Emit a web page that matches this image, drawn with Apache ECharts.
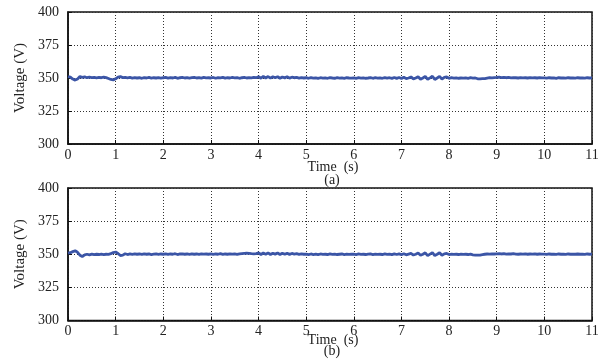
<!DOCTYPE html>
<html><head><meta charset="utf-8">
<script src="https://cdn.jsdelivr.net/npm/echarts@6/dist/echarts.min.js"></script>
<style>html,body{margin:0;padding:0;background:#fff}#c{width:611px;height:361px}</style>
</head><body><div id="c"></div>
<script>
// sample spacing of the recorded waveforms (s)
var sampleStep = 0.05;
var xTicks = [0,1,2,3,4,5,6,7,8,9,10,11];
var yTicks = [300,325,350,375,400];

// (a) voltage, 20 samples per second
var voltageA = [
 351.0,350.6,349.2,348.4,349.3,351.1,350.5,350.8,350.2,350.6,350.3,350.5,350.1,350.4,350.2,350.6,350.3,349.6,348.9,348.6,
 349.4,350.7,351.0,350.3,350.5,350.1,350.4,349.9,350.3,350.0,350.2,349.8,350.3,350.0,350.4,349.9,350.2,350.0,350.3,349.9,
 350.2,350.4,349.9,350.3,350.0,350.5,349.8,350.2,350.4,350.0,350.3,349.9,350.2,350.5,350.0,350.3,349.9,350.4,350.1,350.2,
 350.0,350.4,349.8,350.3,350.1,350.5,349.9,350.2,350.0,350.4,350.1,350.3,349.8,350.2,350.4,350.0,350.3,350.1,350.5,350.2,
 351.0,349.8,351.2,350.0,351.1,349.9,350.9,350.2,351.0,349.8,350.8,350.1,350.9,349.9,350.6,350.2,350.4,349.9,350.3,350.0,
 350.2,349.8,350.3,349.9,350.1,349.7,350.2,349.9,350.1,349.8,350.3,350.0,349.8,350.2,349.9,350.1,349.8,350.2,350.0,349.9,
 350.1,349.8,350.2,349.9,350.1,349.8,350.0,350.3,349.8,350.2,349.9,350.1,349.8,350.3,349.9,350.2,349.7,350.4,349.7,350.4,
 349.6,350.6,349.5,350.0,350.8,349.3,350.0,351.0,349.1,350.0,351.2,349.0,350.1,351.3,348.9,350.0,351.2,349.1,350.4,350.8,
 349.8,350.2,349.9,350.1,349.8,350.0,349.9,350.1,349.8,350.2,349.9,350.0,349.4,349.3,349.5,349.6,349.9,350.2,350.1,350.3,
 350.4,350.6,350.3,350.5,350.2,350.4,350.1,350.3,350.2,350.0,350.3,350.1,350.2,350.0,350.3,350.1,350.2,350.0,350.3,350.1,
 350.1,349.9,350.2,350.0,350.1,349.8,350.2,350.0,350.1,349.9,350.2,350.0,350.1,349.9,350.2,350.0,350.1,349.9,350.2,350.0,
 350.1
];

// (b) voltage, 20 samples per second
var voltageB = [
 350.8,351.2,352.0,352.6,351.5,349.3,348.3,349.5,350.0,349.6,350.1,349.7,350.0,349.8,350.1,349.7,350.0,349.9,350.4,351.3,
 351.7,350.6,349.0,349.3,350.4,349.8,350.2,349.9,350.3,350.0,350.2,349.9,350.3,350.0,350.2,349.8,350.1,350.3,349.9,350.2,
 350.0,350.3,349.9,350.2,350.0,350.4,349.8,350.2,350.3,350.0,350.2,349.9,350.3,350.0,350.2,349.9,350.3,350.1,350.2,350.0,
 350.3,349.9,350.2,350.0,350.4,349.9,350.2,350.0,350.3,350.1,350.2,349.9,350.3,350.5,350.7,350.8,350.6,350.4,350.3,350.5,
 351.0,349.8,350.9,350.0,351.0,349.8,350.8,350.1,350.9,349.8,350.8,350.0,350.7,349.9,350.6,350.1,350.4,349.9,350.3,350.0,
 350.1,349.7,350.2,349.8,350.1,349.7,350.2,349.9,350.0,349.8,350.2,349.9,350.1,349.8,350.0,350.2,349.8,350.1,349.9,350.0,
 350.1,349.8,350.2,349.9,350.0,349.8,350.1,350.2,349.8,350.1,349.9,350.0,349.8,350.2,349.9,350.1,349.7,350.3,349.8,350.3,
 349.7,350.4,349.6,350.1,350.6,349.4,350.0,350.9,349.2,350.0,351.1,349.0,350.1,351.2,349.0,350.0,351.1,349.2,350.3,350.6,
 349.8,350.1,349.9,350.0,349.8,350.1,349.9,350.0,349.8,350.1,349.6,349.4,349.3,349.4,349.7,350.0,350.2,350.1,350.3,350.2,
 350.3,350.5,350.2,350.4,350.1,350.3,350.2,350.4,350.1,350.0,350.2,350.1,350.3,350.0,350.2,350.1,350.3,350.0,350.2,350.1,
 350.1,349.9,350.2,350.0,350.1,349.9,350.2,350.0,350.1,349.9,350.2,350.0,350.1,350.0,350.2,350.0,350.1,349.9,350.2,350.0,
 350.1
];

function pairs(vals){ return vals.map(function(v,i){ return [+(i*sampleStep).toFixed(2), v]; }); }

var font = 'Liberation Serif';
var lineColor = '#3b55a6';
var txt = '#222';

function xAx(idx){
  return {
    type:'value', gridIndex:idx, min:xTicks[0], max:xTicks[xTicks.length-1], interval:1,
    axisLine:{show:true, onZero:false, lineStyle:{color:'#111', width:1.5}},
    axisTick:{show:true, inside:true, length:4, lineStyle:{color:'#111'}},
    axisLabel:{fontFamily:font, fontSize:14, color:txt, margin:4},
    splitLine:{show:true, lineStyle:{color:'#333', type:[1,2], width:1}}
  };
}
function yAx(idx){
  return {
    type:'value', gridIndex:idx, min:yTicks[0], max:yTicks[yTicks.length-1], interval:25,
    name:'Voltage (V)', nameLocation:'middle', nameGap:39,
    nameTextStyle:{fontFamily:font, fontSize:15, color:txt},
    axisLine:{show:true, lineStyle:{color:'#111', width:1.5}},
    axisTick:{show:true, inside:true, length:4, lineStyle:{color:'#111'}},
    axisLabel:{fontFamily:font, fontSize:14, color:txt, margin:9},
    splitLine:{show:true, lineStyle:{color:'#333', type:[1,2], width:1}}
  };
}
function label(text, cx, cy){
  return {type:'text', x:cx, y:cy, style:{text:text, font:'14px "Liberation Serif"', fill:txt, align:'center', verticalAlign:'middle'}};
}

var chart = echarts.init(document.getElementById('c'), null, {renderer:'canvas'});
chart.setOption({
  animation:false,
  backgroundColor:'#fff',
  grid:[
    {left:68, right:19, top:12, height:132, show:true, borderColor:'#111', borderWidth:1.5},
    {left:68, right:19, top:188, height:132.5, show:true, borderColor:'#111', borderWidth:1.5}
  ],
  xAxis:[xAx(0), xAx(1)],
  yAxis:[yAx(0), yAx(1)],
  graphic:[
    label('Time  (s)', 333, 167),
    label('(a)', 332, 180),
    label('Time  (s)', 333, 340),
    label('(b)', 332, 351)
  ],
  series:[
    {type:'line', xAxisIndex:0, yAxisIndex:0, data:pairs(voltageA), showSymbol:false, lineStyle:{color:lineColor, width:2.8}},
    {type:'line', xAxisIndex:1, yAxisIndex:1, data:pairs(voltageB), showSymbol:false, lineStyle:{color:lineColor, width:2.8}}
  ]
});
</script></body></html>
